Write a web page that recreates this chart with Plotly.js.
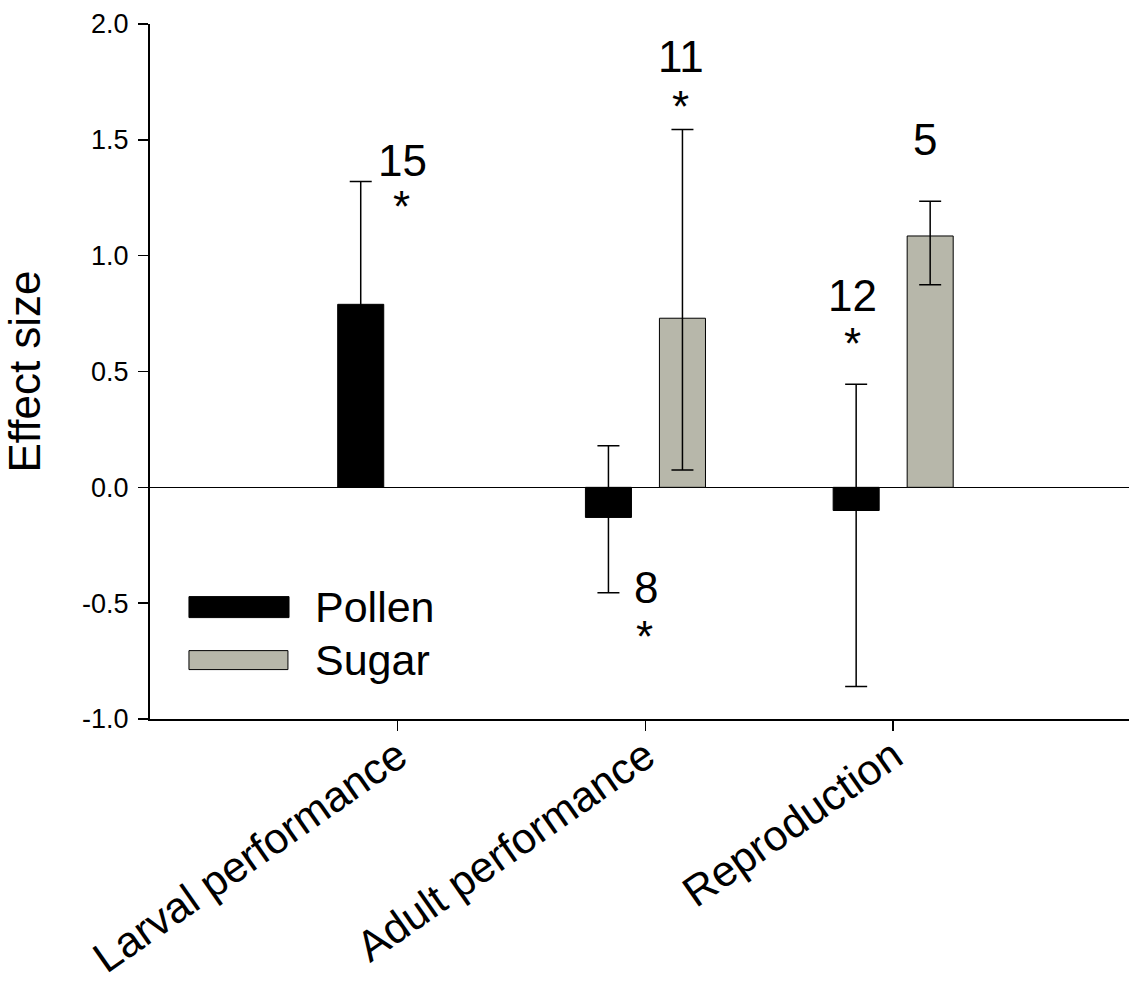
<!DOCTYPE html>
<html>
<head>
<meta charset="utf-8">
<script src="https://cdn.plot.ly/plotly-3.0.1.min.js"></script>
<style>html,body{margin:0;padding:0;background:#fff;}#chart{width:1129px;height:985px;}</style>
</head>
<body>
<div id="chart"></div>
<script>
// ---- data ----
const categories = ['Larval performance', 'Adult performance', 'Reproduction'];
const pollenEffect = [0.79, -0.13, -0.10];
const pollenErrPlus = [0.53, 0.31, 0.545];
const pollenErrMinus = [0.53, 0.325, 0.76];
const sugarEffect = [null, 0.73, 1.085];
const sugarErrPlus = [null, 0.815, 0.15];
const sugarErrMinus = [null, 0.655, 0.21];
const yTickVals = [-1.0, -0.5, 0.0, 0.5, 1.0, 1.5, 2.0];
const yTickText = ['-1.0', '-0.5', '0.0', '0.5', '1.0', '1.5', '2.0'];
const sampleSizes = ['15', '11', '8', '12', '5'];
const significant = [true, true, true, true, false];
const seriesNames = ['Pollen', 'Sugar'];

// ---- layout helpers ----
const FONT = 'Liberation Sans, Arial, sans-serif';
// label anchor points (x in category index units, y in effect-size units)
const labelPos = [
  {x: 0.02, y: 1.41, sx: 0.015, sy: 1.212},
  {x: 1.143, y: 1.859, sx: 1.143, sy: 1.643},
  {x: 1.001, y: -0.432, sx: 0.997, sy: -0.645},
  {x: 1.837, y: 0.827, sx: 1.837, sy: 0.620},
  {x: 2.128, y: 1.50}
];

const annotations = [];
sampleSizes.forEach((n, i) => {
  const p = labelPos[i];
  annotations.push({x: p.x, y: p.y, xref: 'x', yref: 'y', text: n, showarrow: false,
    xanchor: 'center', yanchor: 'middle', font: {family: FONT, size: 44, color: '#000'}});
  if (significant[i]) {
    annotations.push({x: p.sx, y: p.sy, xref: 'x', yref: 'y', text: '*', showarrow: false,
      xanchor: 'center', yanchor: 'middle', font: {family: FONT, size: 44, color: '#000'}});
  }
});
// legend texts
annotations.push({x: 0.1665, y: 0.1617, xref: 'paper', yref: 'paper', text: seriesNames[0],
  showarrow: false, xanchor: 'left', yanchor: 'middle', font: {family: FONT, size: 43, color: '#000'}});
annotations.push({x: 0.1665, y: 0.0855, xref: 'paper', yref: 'paper', text: seriesNames[1],
  showarrow: false, xanchor: 'left', yanchor: 'middle', font: {family: FONT, size: 43, color: '#000'}});

const shapes = [
  {type: 'rect', xref: 'paper', yref: 'paper', x0: 0.0398, x1: 0.1420, y0: 0.1459, y1: 0.1761,
    fillcolor: '#000', line: {color: '#000', width: 1}},
  {type: 'rect', xref: 'paper', yref: 'paper', x0: 0.0398, x1: 0.1409, y0: 0.0711, y1: 0.0984,
    fillcolor: '#b7b7aa', line: {color: '#000', width: 1}}
];

const traces = [
  {type: 'bar', name: seriesNames[0], x: categories, y: pollenEffect,
    marker: {color: '#000', line: {color: '#000', width: 1}},
    error_y: {type: 'data', symmetric: false, array: pollenErrPlus, arrayminus: pollenErrMinus,
      color: '#000', thickness: 1.5, width: 11}},
  {type: 'bar', name: seriesNames[1], x: categories, y: sugarEffect,
    marker: {color: '#b7b7aa', line: {color: '#000', width: 1}},
    error_y: {type: 'data', symmetric: false, array: sugarErrPlus, arrayminus: sugarErrMinus,
      color: '#000', thickness: 1.5, width: 11}}
];

const layout = {
  width: 1129, height: 985,
  margin: {l: 150, r: 0, t: 24, b: 266, pad: 0},
  paper_bgcolor: '#fff', plot_bgcolor: '#fff',
  showlegend: false,
  barmode: 'group', bargap: 0.4025, bargroupgap: 0.378,
  font: {family: FONT, color: '#000'},
  xaxis: {
    type: 'category', range: [-1.0, 2.952], fixedrange: true,
    showline: true, linecolor: '#000', linewidth: 2,
    ticks: 'outside', ticklen: 10, tickwidth: 1.5, tickcolor: '#000',
    tickangle: -35, ticklabelstandoff: -17,
    tickfont: {family: FONT, size: 43, color: '#000'},
    showgrid: false, zeroline: false
  },
  yaxis: {
    range: [-1, 2], fixedrange: true,
    tickvals: yTickVals, ticktext: yTickText,
    showline: true, linecolor: '#000', linewidth: 2,
    ticks: 'outside', ticklen: 10, tickwidth: 1.5, tickcolor: '#000',
    ticklabelstandoff: 4,
    tickfont: {family: FONT, size: 27, color: '#000'},
    showgrid: false, zeroline: true, zerolinecolor: '#000', zerolinewidth: 1.5,
    title: {text: 'Effect size', font: {family: FONT, size: 44, color: '#000'}, standoff: 30}
  },
  annotations: annotations,
  shapes: shapes
};

Plotly.newPlot('chart', traces, layout, {displayModeBar: false, staticPlot: true});
</script>
</body>
</html>
